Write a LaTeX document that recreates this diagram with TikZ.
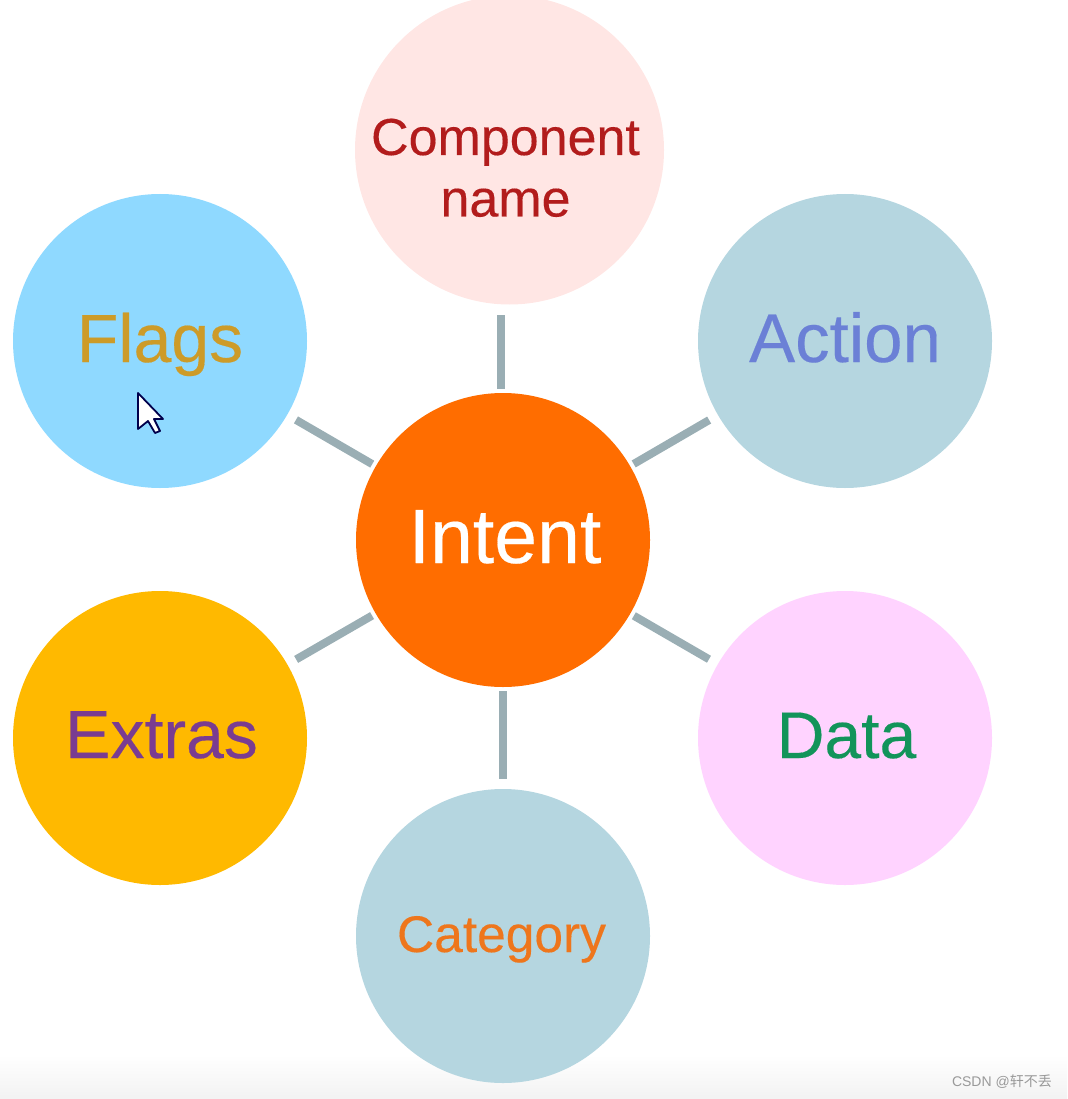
\documentclass[tikz,border=0pt]{standalone}
\usepackage{fontspec}
\setmainfont{Liberation Sans}
\newfontfamily\cjk{Noto Sans CJK SC}
\newfontfamily\bubblefont[FakeBold=0.25]{Liberation Sans}
\usetikzlibrary{positioning}
\definecolor{spokegray}{RGB}{154, 174, 180}
\definecolor{intentorange}{RGB}{255, 109, 0}
\definecolor{paleblue}{RGB}{181, 214, 224}
\definecolor{skyblue}{RGB}{143, 217, 255}
\definecolor{palerose}{RGB}{255, 230, 228}
\definecolor{palepink}{RGB}{255, 211, 255}
\definecolor{amber}{RGB}{255, 185, 0}
\definecolor{compred}{RGB}{178, 28, 28}
\definecolor{flagsgold}{RGB}{205, 155, 40}
\definecolor{actionblue}{RGB}{107, 128, 214}
\definecolor{extraspurple}{RGB}{122, 60, 145}
\definecolor{datagreen}{RGB}{18, 148, 90}
\definecolor{catorange}{RGB}{238, 118, 28}
% text placed by its baseline: x offset, raise, text
\newcommand{\bubbletext}[3]{\raisebox{#2}[0pt][0pt]{\makebox[0pt][c]{\kern 2\dimexpr#1\relax \bubblefont #3}}}
\begin{document}
\begin{tikzpicture}[
    x=1pt, y=-1pt,
    bubble/.style={circle, inner sep=0pt, minimum size=294pt},
    spoke/.style={line width=8pt, spokegray, shorten <=4pt, shorten >=10pt},
    mark text/.style={text=black!40, font=\fontsize{14}{14}\selectfont}
  ]
    \useasboundingbox (0,0) rectangle (1067,1099);
    \shade[top color=white, bottom color=black!5] (0,1055) rectangle (1067,1099);

    \node[bubble, fill=intentorange, text=white, font=\fontsize{77}{80}\selectfont] (intent) at (503,540) {\bubbletext{2pt}{-23pt}{Intent}};
    \node[bubble, fill=palerose, text=compred, minimum size=309pt, font=\fontsize{52}{61.5}\selectfont,
          on grid, above=390pt of intent, xshift=6.5pt] (component)
          {\bubbletext{-4pt}{-66.5pt}{\parbox[b]{300pt}{\centering Component\\name}}};
    \node[bubble, fill=skyblue, text=flagsgold, font=\fontsize{68}{70}\selectfont,
          on grid, above left=199pt and 343pt of intent] (flags) {\bubbletext{0pt}{-21pt}{Flags}};
    \node[bubble, fill=paleblue, text=actionblue, font=\fontsize{69}{70}\selectfont,
          on grid, above right=199pt and 342pt of intent] (action) {\bubbletext{0pt}{-21pt}{Action}};
    \node[bubble, fill=amber, text=extraspurple, font=\fontsize{68}{70}\selectfont,
          on grid, below left=198pt and 343pt of intent] (extras) {\bubbletext{1.5pt}{-20pt}{Extras}};
    \node[bubble, fill=palepink, text=datagreen, font=\fontsize{66}{70}\selectfont,
          on grid, below right=198pt and 342pt of intent] (data) {\bubbletext{1.5pt}{-20pt}{Data}};
    \node[bubble, fill=paleblue, text=catorange, font=\fontsize{51.5}{54}\selectfont,
          on grid, below=396pt of intent] (category) {\bubbletext{-1.5pt}{-16pt}{Category}};

    \draw[spoke] ([xshift=-2pt]intent.north) -- ([xshift=-2pt]intent.north |- component.south);
    \draw[spoke] (intent) -- (flags);
    \draw[spoke] (intent) -- (action);
    \draw[spoke] (intent) -- (extras);
    \draw[spoke] (intent) -- (data);
    \draw[spoke] (intent) -- (category);

    % pointer over the left bubble
    \draw[line width=1.8pt, draw=black!70!blue, fill=white, line join=round]
      (138,393) -- (138,429) -- (148,421) -- (155,433) -- (160,431) -- (154,419) -- (163,419) -- cycle;

    \node[mark text, anchor=east, inner sep=0pt] (csdn) at (1052,1082) {CSDN @{\cjk 轩不丢}};
  \end{tikzpicture}
\end{document}
